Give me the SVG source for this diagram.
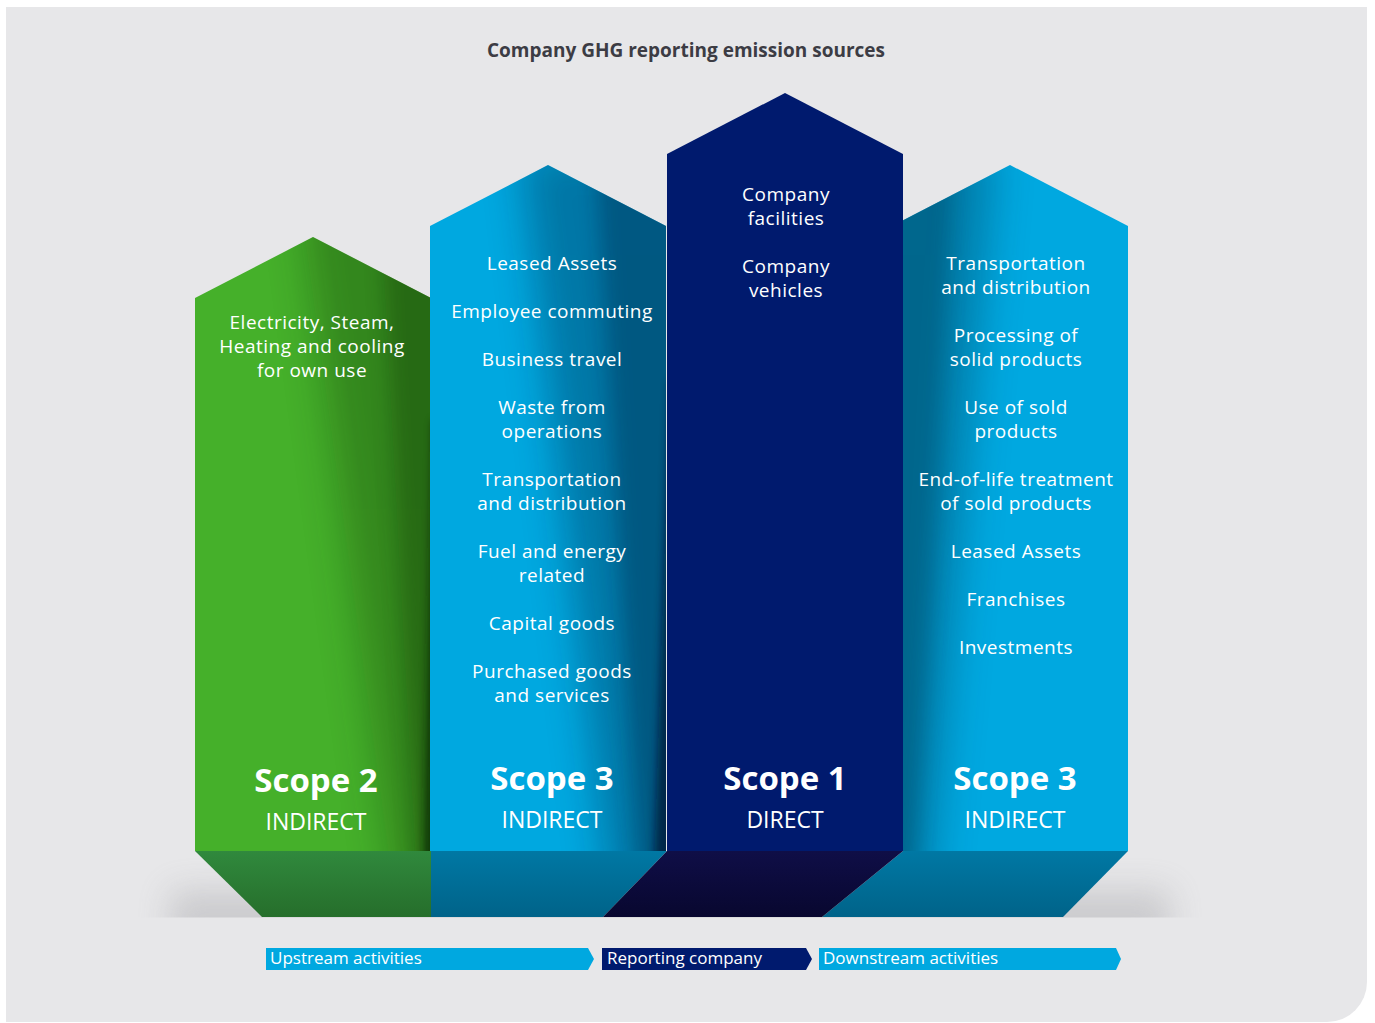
<svg xmlns="http://www.w3.org/2000/svg" width="1375" height="1023" viewBox="0 0 1375 1023">
  <style>
    .t { font-family: "Open Sans", "Noto Sans", sans-serif; fill: #ffffff; text-anchor: middle; font-size: 19px; letter-spacing: 0.5px; }
    .title { font-family: "Open Sans", "Noto Sans", sans-serif; fill: #3c3c44; text-anchor: middle; font-size: 19px; font-weight: 700; }
    .scope { font-family: "Open Sans", "Noto Sans", sans-serif; fill: #ffffff; text-anchor: middle; font-size: 33px; font-weight: 700; }
    .kind { font-family: "Open Sans", "Noto Sans", sans-serif; fill: #ffffff; text-anchor: middle; font-size: 23px; }
    .lbl { font-family: "Open Sans", "Noto Sans", sans-serif; fill: #ffffff; font-size: 17px; }
  </style>
  <defs>
    <linearGradient id="baseGreen" x1="0" y1="0" x2="0" y2="1">
      <stop offset="0" stop-color="#30893d"/>
      <stop offset="1" stop-color="#266e2b"/>
    </linearGradient>
    <linearGradient id="baseBlue" x1="0" y1="0" x2="0" y2="1">
      <stop offset="0" stop-color="#0078a4"/>
      <stop offset="1" stop-color="#006389"/>
    </linearGradient>
    <linearGradient id="baseNavy" x1="0" y1="0" x2="0" y2="1">
      <stop offset="0" stop-color="#0f0e47"/>
      <stop offset="1" stop-color="#08072f"/>
    </linearGradient>
    <clipPath id="cGreen"><polygon points="195,298 313,237 431,298 431,851 195,851"/></clipPath>
    <clipPath id="cBlueL"><polygon points="430,226 548,165 666,226 666,851 430,851"/></clipPath>
    <clipPath id="cBlueR"><polygon points="892,226 1010,165 1128,226 1128,851 892,851"/></clipPath>
    <clipPath id="cAbove"><rect x="0" y="0" width="1375" height="917.5"/></clipPath>
    <filter id="blur" x="-20%" y="-100%" width="140%" height="300%"><feGaussianBlur stdDeviation="16"/></filter>
    <filter id="soft20" x="-50%" y="-10%" width="200%" height="120%"><feGaussianBlur stdDeviation="20"/></filter>
    <filter id="soft10" x="-50%" y="-10%" width="200%" height="120%"><feGaussianBlur stdDeviation="10"/></filter>
    <filter id="soft4" x="-50%" y="-10%" width="200%" height="120%"><feGaussianBlur stdDeviation="4"/></filter>
  </defs>

  <!-- background -->
  <path d="M6,7 H1367 V982 A40,40 0 0 1 1327,1022 H6 Z" fill="#e7e7e9"/>

  <text class="title" x="686" y="57">Company GHG reporting emission sources</text>

  <!-- ground shadow -->
  <g clip-path="url(#cAbove)">
    <rect x="170" y="890" width="1000" height="60" fill="#8e8e93" opacity="0.3" filter="url(#blur)"/>
  </g>

  <!-- Scope 2 column -->
  <g id="scope2">
    <polygon points="195,298 313,237 431,298 431,851 195,851" fill="#45b02a"/>
    <g clip-path="url(#cGreen)">
      <polygon points="300,200 480,200 480,900 395,900" fill="#0b2a06" opacity="0.3" filter="url(#soft20)"/>
      <polygon points="380,200 480,200 480,900 418,900" fill="#0b2a06" opacity="0.3" filter="url(#soft10)"/>
      <polygon points="433,420 480,420 480,900 423,900" fill="#061803" opacity="0.6" filter="url(#soft4)"/>
    </g>
    <polygon points="195,851 431,851 431,917 262,917" fill="url(#baseGreen)"/>
    <text class="t" x="312" y="329">Electricity, Steam,</text>
    <text class="t" x="312" y="353">Heating and cooling</text>
    <text class="t" x="312" y="377">for own use</text>
    <text class="scope" x="316" y="792">Scope 2</text>
    <text class="kind" x="316" y="830">INDIRECT</text>
  </g>

  <!-- Scope 3 upstream column -->
  <g id="scope3-upstream">
    <polygon points="430,226 548,165 666,226 666,851 430,851" fill="#00a8e0"/>
    <g clip-path="url(#cBlueL)">
      <polygon points="520,150 720,150 720,900 610,900" fill="#021a3a" opacity="0.35" filter="url(#soft20)"/>
      <polygon points="595,150 720,150 720,900 640,900" fill="#021a3a" opacity="0.33" filter="url(#soft10)"/>
      <polygon points="670,380 720,380 720,900 653,900" fill="#050a2a" opacity="0.65" filter="url(#soft4)"/>
    </g>
    <polygon points="431,851 667,851 603,917 431,917" fill="url(#baseBlue)"/>
    <text class="t" x="552" y="270">Leased Assets</text>
    <text class="t" x="552" y="318">Employee commuting</text>
    <text class="t" x="552" y="366">Business travel</text>
    <text class="t" x="552" y="414">Waste from</text>
    <text class="t" x="552" y="438">operations</text>
    <text class="t" x="552" y="486">Transportation</text>
    <text class="t" x="552" y="510">and distribution</text>
    <text class="t" x="552" y="558">Fuel and energy</text>
    <text class="t" x="552" y="582">related</text>
    <text class="t" x="552" y="630">Capital goods</text>
    <text class="t" x="552" y="678">Purchased goods</text>
    <text class="t" x="552" y="702">and services</text>
    <text class="scope" x="552" y="790">Scope 3</text>
    <text class="kind" x="552" y="828">INDIRECT</text>
  </g>

  <!-- Scope 3 downstream column -->
  <g id="scope3-downstream">
    <polygon points="892,226 1010,165 1128,226 1128,851 892,851" fill="#00a8e0"/>
    <g clip-path="url(#cBlueR)">
      <polygon points="860,150 995,150 930,900 860,900" fill="#03304a" opacity="0.35" filter="url(#soft20)"/>
      <polygon points="860,150 955,150 914,900 860,900" fill="#03304a" opacity="0.3" filter="url(#soft10)"/>
    </g>
    <polygon points="903,851 1128,851 1063,917 822,917" fill="url(#baseBlue)"/>
    <text class="t" x="1016" y="270">Transportation</text>
    <text class="t" x="1016" y="294">and distribution</text>
    <text class="t" x="1016" y="342">Processing of</text>
    <text class="t" x="1016" y="366">solid products</text>
    <text class="t" x="1016" y="414">Use of sold</text>
    <text class="t" x="1016" y="438">products</text>
    <text class="t" x="1016" y="486">End-of-life treatment</text>
    <text class="t" x="1016" y="510">of sold products</text>
    <text class="t" x="1016" y="558">Leased Assets</text>
    <text class="t" x="1016" y="606">Franchises</text>
    <text class="t" x="1016" y="654">Investments</text>
    <text class="scope" x="1015" y="790">Scope 3</text>
    <text class="kind" x="1015" y="828">INDIRECT</text>
  </g>

  <!-- Scope 1 column -->
  <g id="scope1">
    <polygon points="667,154 785,93 903,154 903,851 667,851" fill="#001a6e"/>
    <polygon points="667,851 903,851 822,917 603,917" fill="url(#baseNavy)"/>
    <text class="t" x="786" y="201">Company</text>
    <text class="t" x="786" y="225">facilities</text>
    <text class="t" x="786" y="273">Company</text>
    <text class="t" x="786" y="297">vehicles</text>
    <text class="scope" x="785" y="790">Scope 1</text>
    <text class="kind" x="785" y="828">DIRECT</text>
  </g>

  <!-- activity labels -->
  <g id="upstream">
    <polygon points="266,948 588,948 594,959 588,970 266,970" fill="#00a8e0"/>
    <text class="lbl" x="270" y="964">Upstream activities</text>
  </g>
  <g id="reporting">
    <polygon points="602,948 806,948 812,959 806,970 602,970" fill="#001a6e"/>
    <text class="lbl" x="607" y="964">Reporting company</text>
  </g>
  <g id="downstream">
    <polygon points="819,948 1116,948 1121,959 1116,970 819,970" fill="#00a8e0"/>
    <text class="lbl" x="823" y="964">Downstream activities</text>
  </g>

  <g id="connectors"></g>
</svg>
